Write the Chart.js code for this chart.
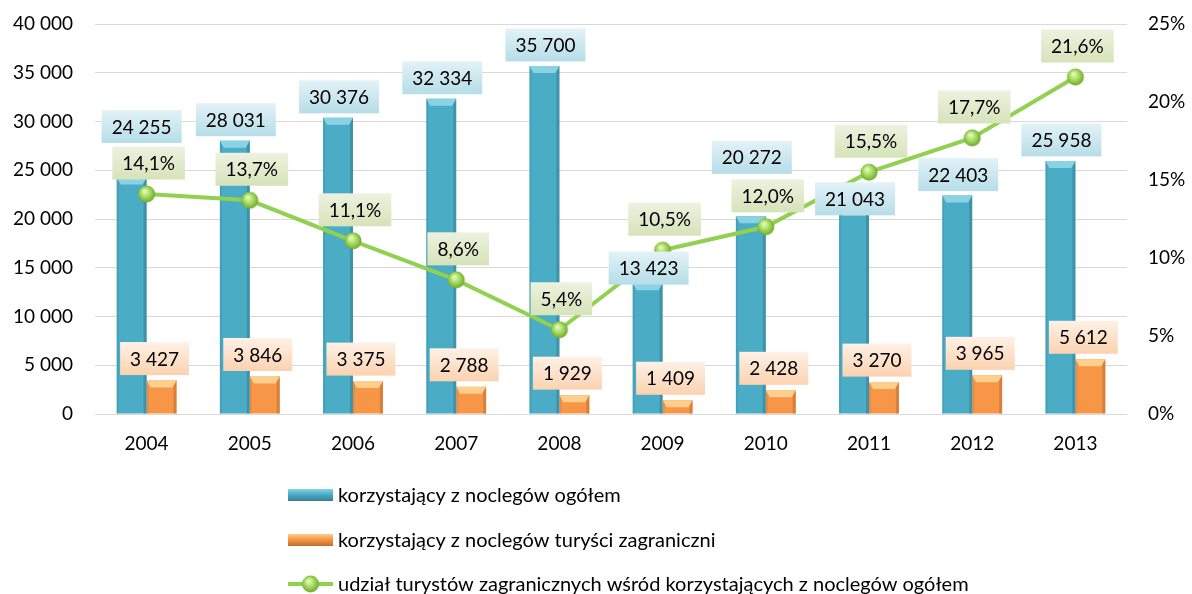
<!DOCTYPE html>
<html>
<head>
<meta charset="utf-8">
<script src="https://cdn.jsdelivr.net/npm/chart.js@4"></script>
<style>
  body { margin: 0; background: #fff; }
  #wrap { width: 1192px; height: 594px; }
</style>
</head>
<body>
<div id="wrap"><canvas id="chart"></canvas></div>
<script>
const years = ["2004","2005","2006","2007","2008","2009","2010","2011","2012","2013"];
const totalGuests = [24255, 28031, 30376, 32334, 35700, 13423, 20272, 21043, 22403, 25958];
const foreignGuests = [3427, 3846, 3375, 2788, 1929, 1409, 2428, 3270, 3965, 5612];
const foreignShare = [14.1, 13.7, 11.1, 8.6, 5.4, 10.5, 12.0, 15.5, 17.7, 21.6];
const seriesNames = [
  "korzystający z noclegów ogółem",
  "korzystający z noclegów turyści zagraniczni",
  "udział turystów zagranicznych wśród korzystających z noclegów ogółem"
];

const FONT = "Lato";

// manual nudges of the blue value boxes (Excel had them moved by hand)
const blueLift = { 0: -30, 5: 6, 6: -38, 7: 11 };
const blueShift = { 0: 9 };

function fmt(n) {
  return String(n).replace(/\B(?=(\d{3})+(?!\d))/g, " ");
}
function pct(v) {
  return v.toFixed(1).replace(".", ",") + "%";
}

// green ball marker
const ball = document.createElement("canvas");
ball.width = 20; ball.height = 20;
(function () {
  const c = ball.getContext("2d");
  const g = c.createRadialGradient(8, 7, 1, 10, 10, 10);
  g.addColorStop(0, "#e2f7b8");
  g.addColorStop(0.45, "#a3d95c");
  g.addColorStop(1, "#5f9a24");
  c.fillStyle = g;
  c.beginPath(); c.arc(10, 10, 8.5, 0, Math.PI * 2); c.fill();
})();

const barLook = [
  { main: "#4bacc6", dark: "#357f94", light: "#8ad3e4" },
  { main: "#f79646", dark: "#c0702d", light: "#fccf8d" }
];

const bevelPlugin = {
  id: "bevel",
  afterDatasetDraw(chart, args) {
    if (args.index > 1) return;
    const look = barLook[args.index];
    const ctx = chart.ctx;
    ctx.save();
    args.meta.data.forEach(bar => {
      const p = bar.getProps(["x", "y", "base", "width"], true);
      const x0 = p.x - p.width / 2, x1 = p.x + p.width / 2;
      const h = p.base - p.y;
      // side shading
      ctx.fillStyle = look.dark;
      ctx.globalAlpha = 0.55;
      ctx.fillRect(x1 - 3, p.y, 3, h);
      ctx.globalAlpha = 0.25;
      ctx.fillRect(x0, p.y, 2, h);
      ctx.globalAlpha = 1;
      // top chamfer
      const ch = Math.min(7, h);
      ctx.fillStyle = look.light;
      ctx.beginPath();
      ctx.moveTo(x0, p.y);
      ctx.lineTo(x1, p.y);
      ctx.lineTo(x1 - 4, p.y + ch);
      ctx.lineTo(x0 + 4, p.y + ch);
      ctx.closePath();
      ctx.fill();
    });
    ctx.restore();
  }
};

function drawBox(ctx, text, cx, cy, top, bottom) {
  const w = ctx.measureText(text).width + 20;
  const h = 33;
  const g = ctx.createLinearGradient(0, cy - h / 2, 0, cy + h / 2);
  g.addColorStop(0, top);
  g.addColorStop(1, bottom);
  ctx.fillStyle = g;
  ctx.fillRect(cx - w / 2, cy - h / 2, w, h);
  ctx.fillStyle = "#000";
  ctx.fillText(text, cx, cy + 1);
}

const labelPlugin = {
  id: "boxLabels",
  afterDatasetsDraw(chart) {
    const ctx = chart.ctx;
    ctx.save();
    ctx.font = "19px " + FONT;
    ctx.textAlign = "center";
    ctx.textBaseline = "middle";
    const m0 = chart.getDatasetMeta(0).data;
    const m1 = chart.getDatasetMeta(1).data;
    const m2 = chart.getDatasetMeta(2).data;
    m0.forEach((el, i) => {
      drawBox(ctx, fmt(totalGuests[i]), el.x + 1 + (blueShift[i] || 0), el.y - 21 + (blueLift[i] || 0), "#e3f2f7", "#b6dde8");
    });
    m1.forEach((el, i) => {
      drawBox(ctx, fmt(foreignGuests[i]), el.x - 7, el.y - 22, "#fef1e6", "#fbd2b0");
    });
    m2.forEach((el, i) => {
      drawBox(ctx, pct(foreignShare[i]), el.x + 2, el.y - 31, "#edf2e0", "#d6e3b9");
    });
    ctx.restore();
  }
};

const legendPlugin = {
  id: "sideLegend",
  afterDraw(chart) {
    const ctx = chart.ctx;
    const rows = [495, 540, 584];
    const sx = 288, sw = 45;
    ctx.save();
    ctx.font = "20px " + FONT;
    ctx.textBaseline = "middle";
    ctx.textAlign = "left";
    [0, 1].forEach(k => {
      const y = rows[k];
      const look = barLook[k];
      const g = ctx.createLinearGradient(0, y - 6, 0, y + 6);
      g.addColorStop(0, look.light);
      g.addColorStop(0.45, look.main);
      g.addColorStop(1, look.dark);
      ctx.fillStyle = g;
      ctx.fillRect(sx, y - 6, sw, 12);
    });
    ctx.strokeStyle = "#92d050";
    ctx.lineWidth = 4;
    ctx.beginPath();
    ctx.moveTo(sx, rows[2]);
    ctx.lineTo(sx + sw, rows[2]);
    ctx.stroke();
    ctx.drawImage(ball, sx + sw / 2 - 10, rows[2] - 10);
    ctx.fillStyle = "#000";
    seriesNames.forEach((name, k) => ctx.fillText(name, sx + sw + 5, rows[k] + 1));
    ctx.restore();
  }
};

new Chart(document.getElementById("chart"), {
  type: "bar",
  data: {
    labels: years,
    datasets: [
      {
        label: seriesNames[0], data: totalGuests, yAxisID: "y",
        backgroundColor: barLook[0].main, order: 1,
        categoryPercentage: 0.58, barPercentage: 1.0
      },
      {
        label: seriesNames[1], data: foreignGuests, yAxisID: "y",
        backgroundColor: barLook[1].main, order: 1,
        categoryPercentage: 0.58, barPercentage: 1.0
      },
      {
        type: "line", label: seriesNames[2], data: foreignShare, yAxisID: "y1",
        borderColor: "#92d050", borderWidth: 4, tension: 0,
        pointStyle: ball, pointRadius: 9, order: 0
      }
    ]
  },
  options: {
    responsive: true,
    maintainAspectRatio: false,
    animation: false,
    layout: { padding: { top: 24, left: 0, right: 0, bottom: 0 } },
    plugins: { legend: { display: false }, tooltip: { enabled: false } },
    scales: {
      x: {
        grid: { display: false, drawTicks: false },
        border: { display: false },
        ticks: { color: "#000", font: { family: FONT, size: 19 }, padding: 18 },
        afterFit(scale) { scale.height = 180; }
      },
      y: {
        position: "left", min: 0, max: 40000,
        ticks: { stepSize: 5000, color: "#000", font: { family: FONT, size: 19 }, padding: 22,
                 callback: v => fmt(v) },
        grid: { color: "#d9d9d9", lineWidth: 1, drawTicks: false },
        border: { display: false },
        afterFit(scale) { scale.width = 95; scale.paddingTop = 0; scale.paddingBottom = 0; }
      },
      y1: {
        position: "right", min: 0, max: 25,
        ticks: { stepSize: 5, color: "#000", font: { family: FONT, size: 19 }, padding: 21,
                 callback: v => v + "%" },
        grid: { drawOnChartArea: false, drawTicks: false },
        border: { display: false },
        afterFit(scale) { scale.width = 65; scale.paddingTop = 0; scale.paddingBottom = 0; }
      }
    }
  },
  plugins: [bevelPlugin, labelPlugin, legendPlugin]
});
</script>
</body>
</html>
